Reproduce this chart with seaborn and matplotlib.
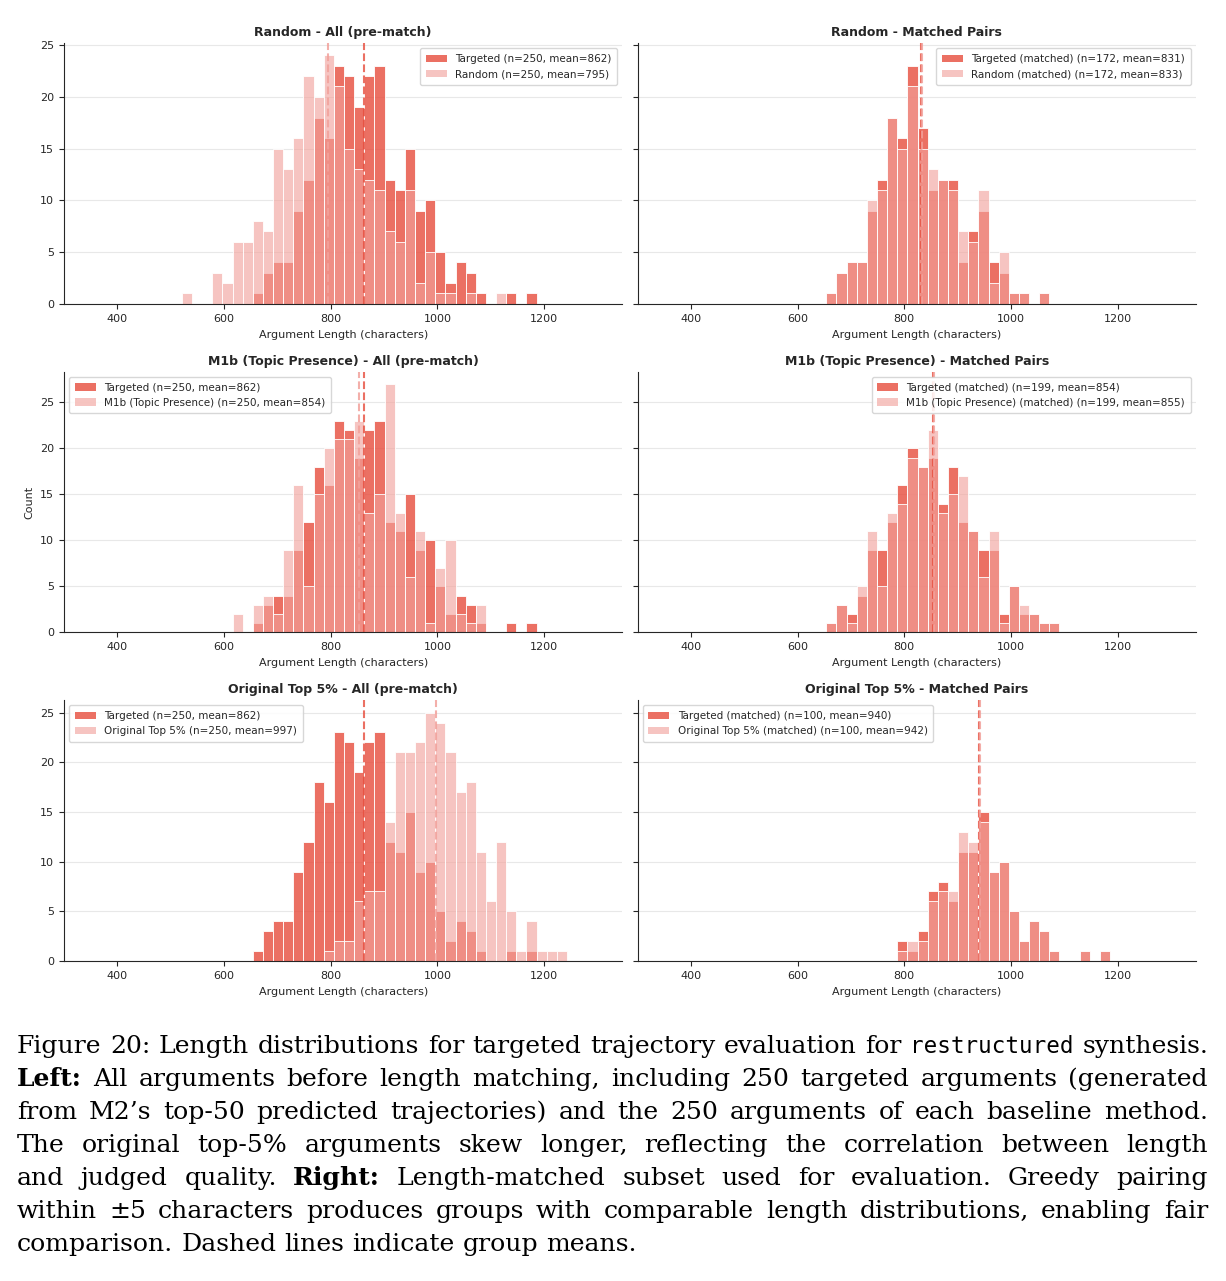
import numpy as np
import pandas as pd
import matplotlib
matplotlib.use("Agg")
import matplotlib.pyplot as plt
import seaborn as sns
from matplotlib.patches import Patch

# ------------------------------------------------------------------ data
# common histogram bins (characters)
BIN_START = 521
BIN_WIDTH = 19
N_BINS = 38

# counts per bin (bin 0 .. bin 37)
targeted_all = [0, 0, 0, 0, 0, 0, 0, 1, 3, 4, 4, 9, 12, 18, 16, 23, 22, 19, 22, 23,
                12, 11, 15, 9, 10, 5, 2, 4, 3, 1, 0, 0, 1, 0, 1, 0, 0, 0]
random_all = [1, 0, 0, 3, 2, 6, 6, 8, 7, 15, 13, 16, 22, 20, 24, 21, 15, 13, 12, 11,
              7, 6, 11, 2, 5, 1, 1, 0, 1, 0, 0, 1, 0, 0, 0, 0, 0, 0]
m1b_all = [0, 0, 0, 0, 0, 2, 0, 3, 4, 2, 9, 16, 5, 15, 20, 21, 21, 23, 13, 15,
           27, 13, 6, 11, 1, 7, 10, 2, 1, 3, 0, 0, 0, 0, 0, 0, 0, 0]
top5_all = [0, 0, 0, 0, 0, 0, 0, 0, 0, 0, 0, 0, 0, 0, 1, 2, 2, 6, 7, 7,
            14, 21, 21, 22, 25, 24, 21, 17, 18, 11, 6, 12, 5, 1, 4, 1, 1, 1]

targeted_random_matched = [0, 0, 0, 0, 0, 0, 0, 1, 3, 4, 4, 9, 12, 18, 16, 23, 17, 11, 12, 12,
                           4, 7, 9, 4, 3, 1, 1, 0, 1, 0, 0, 0, 0, 0, 0, 0, 0, 0]
random_matched = [0, 0, 0, 0, 0, 0, 0, 1, 3, 4, 4, 10, 11, 18, 15, 21, 15, 13, 12, 11,
                  7, 6, 11, 2, 5, 1, 1, 0, 1, 0, 0, 0, 0, 0, 0, 0, 0, 0]
targeted_m1b_matched = [0, 0, 0, 0, 0, 0, 0, 1, 3, 2, 4, 9, 9, 12, 16, 20, 18, 19, 14, 18,
                        12, 11, 9, 9, 2, 5, 2, 2, 1, 1, 0, 0, 0, 0, 0, 0, 0, 0]
m1b_matched = [0, 0, 0, 0, 0, 0, 0, 1, 3, 1, 5, 11, 5, 13, 14, 19, 18, 22, 13, 15,
               17, 11, 6, 11, 1, 5, 3, 2, 1, 1, 0, 0, 0, 0, 0, 0, 0, 0]
targeted_top5_matched = [0, 0, 0, 0, 0, 0, 0, 0, 0, 0, 0, 0, 0, 0, 2, 1, 3, 7, 8, 6,
                         11, 11, 15, 9, 10, 5, 2, 4, 3, 1, 0, 0, 1, 0, 1, 0, 0, 0]
top5_matched = [0, 0, 0, 0, 0, 0, 0, 0, 0, 0, 0, 0, 0, 0, 1, 2, 2, 6, 7, 7,
                13, 12, 14, 9, 10, 5, 2, 4, 3, 1, 0, 0, 1, 0, 1, 0, 0, 0]

panel_titles = [
    "Random - All (pre-match)", "Random - Matched Pairs",
    "M1b (Topic Presence) - All (pre-match)", "M1b (Topic Presence) - Matched Pairs",
    "Original Top 5% - All (pre-match)", "Original Top 5% - Matched Pairs",
]
target_labels = [
    "Targeted (n=250, mean=862)", "Targeted (matched) (n=172, mean=831)",
    "Targeted (n=250, mean=862)", "Targeted (matched) (n=199, mean=854)",
    "Targeted (n=250, mean=862)", "Targeted (matched) (n=100, mean=940)",
]
other_labels = [
    "Random (n=250, mean=795)", "Random (matched) (n=172, mean=833)",
    "M1b (Topic Presence) (n=250, mean=854)", "M1b (Topic Presence) (matched) (n=199, mean=855)",
    "Original Top 5% (n=250, mean=997)", "Original Top 5% (matched) (n=100, mean=942)",
]
target_means = [862, 831, 862, 854, 862, 940]
other_means = [795, 833, 854, 855, 997, 942]

target_series = [targeted_all, targeted_random_matched, targeted_all,
                 targeted_m1b_matched, targeted_all, targeted_top5_matched]
other_series = [random_all, random_matched, m1b_all, m1b_matched, top5_all, top5_matched]

CAPTION_LINES = [
    "Figure 20: Length distributions for targeted trajectory evaluation for `restructured` synthesis.",
    "**Left:** All arguments before length matching, including 250 targeted arguments (generated",
    "from M2’s top-50 predicted trajectories) and the 250 arguments of each baseline method.",
    "The original top-5% arguments skew longer, reflecting the correlation between length",
    "and judged quality. **Right:** Length-matched subset used for evaluation. Greedy pairing",
    "within ±5 characters produces groups with comparable length distributions, enabling fair",
    "comparison. Dashed lines indicate group means.",
]

# ------------------------------------------------------------------ style
T_COLOR = "#e74c3c"
T_ALPHA = 0.8
O_COLOR = "#f2a19b"
O_ALPHA = 0.62
legend_locs = ["upper right", "upper right", "upper left",
               "upper right", "upper left", "upper left"]

sns.set_style("ticks")
plt.rcParams["font.family"] = ["DejaVu Sans"]

W, H = 1226, 1281
fig, axes = plt.subplots(3, 2, figsize=(W / 100, H / 100), dpi=100, sharey="row")
fig.subplots_adjust(left=64 / W, right=1196 / W, top=1 - 43 / H, bottom=1 - 961 / H,
                    wspace=0.027, hspace=0.26)

edges = BIN_START + BIN_WIDTH * np.arange(N_BINS + 1)
centers = edges[:-1] + BIN_WIDTH / 2

for i, ax in enumerate(axes.flat):
    df_t = pd.DataFrame({"length": centers, "count": np.array(target_series[i], dtype=float)})
    df_o = pd.DataFrame({"length": centers, "count": np.array(other_series[i], dtype=float)})
    sns.histplot(data=df_t, x="length", weights="count", bins=list(edges),
                 color=T_COLOR, alpha=T_ALPHA, edgecolor="white", linewidth=0.6, ax=ax)
    sns.histplot(data=df_o, x="length", weights="count", bins=list(edges),
                 color=O_COLOR, alpha=O_ALPHA, edgecolor="white", linewidth=0.6, ax=ax)
    ax.axvline(target_means[i], color=T_COLOR, ls="--", lw=1.5, alpha=0.8)
    ax.axvline(other_means[i], color=O_COLOR, ls="--", lw=1.5, alpha=0.85)
    ax.set_xlim(300, 1347)
    ax.set_xticks([400, 600, 800, 1000, 1200])
    ax.set_yticks([0, 5, 10, 15, 20, 25])
    ax.tick_params(labelsize=8, length=3.5, width=0.8, colors=".15")
    ax.grid(axis="y", color="#e8e8e8", lw=0.8)
    ax.set_axisbelow(True)
    ax.set_title(panel_titles[i], fontsize=9, fontweight="bold", pad=5)
    ax.set_xlabel("Argument Length (characters)", fontsize=8, labelpad=4.5)
    ax.set_ylabel("Count" if i == 2 else "", fontsize=8)
    handles = [Patch(facecolor=T_COLOR, alpha=T_ALPHA, edgecolor="none"),
               Patch(facecolor=O_COLOR, alpha=O_ALPHA, edgecolor="none")]
    ax.legend(handles, [target_labels[i], other_labels[i]], loc=legend_locs[i],
              fontsize=7.5, frameon=True, framealpha=0.85, edgecolor="#d0d0d0",
              handlelength=2.0, borderpad=0.55, labelspacing=0.5)
    for side in ["top", "right"]:
        ax.spines[side].set_visible(False)
    for side in ["left", "bottom"]:
        ax.spines[side].set_linewidth(0.8)
        ax.spines[side].set_color(".15")

# ------------------------------------------------------------------ caption (justified)
renderer = fig.canvas.get_renderer()
SERIF = ["DejaVu Serif"]
MONO = ["DejaVu Sans Mono"]


def parse(tok):
    if tok.startswith("**") and tok.endswith("**"):
        return tok[2:-2], "bold"
    if tok.startswith("`") and tok.endswith("`"):
        return tok[1:-1], "mono"
    return tok, "normal"


def props(style, size):
    if style == "mono":
        return dict(family=MONO, fontsize=size * 0.9)
    if style == "bold":
        return dict(family=SERIF, fontsize=size, fontweight="bold")
    return dict(family=SERIF, fontsize=size)


def measure(s, kw):
    t = fig.text(0, 0, s, **kw)
    w = t.get_window_extent(renderer).width
    t.remove()
    return w


def space_w(sz):
    return measure("a a", props("normal", sz)) - measure("aa", props("normal", sz))


def natural(line, sz):
    toks = [parse(t) for t in line.split(" ")]
    ws = sum(measure(s, props(st, sz)) for s, st in toks)
    return ws + space_w(sz) * (len(toks) - 1)


X0, X1 = 17, 1208
LAST_LINE_END = 680
BASE0, LINE_STEP = 1053, 33
size = 20.0
size *= (LAST_LINE_END - X0) / natural(CAPTION_LINES[-1], size)
widest = max(natural(l, size) for l in CAPTION_LINES[:-1])
if widest > (X1 - X0):
    size *= (X1 - X0) / widest * 0.995

sp = space_w(size)
for li, line in enumerate(CAPTION_LINES):
    toks = [parse(t) for t in line.split(" ")]
    widths = [measure(s, props(st, size)) for s, st in toks]
    if li < len(CAPTION_LINES) - 1 and len(toks) > 1:
        gap = ((X1 - X0) - sum(widths)) / (len(toks) - 1)
    else:
        gap = sp
    x = X0
    y = BASE0 + LINE_STEP * li
    for (s, st), w in zip(toks, widths):
        fig.text(x / W, 1 - y / H, s, va="baseline", ha="left", color="black",
                 **props(st, size))
        x += w + gap

fig.savefig("out.png", dpi=100)
